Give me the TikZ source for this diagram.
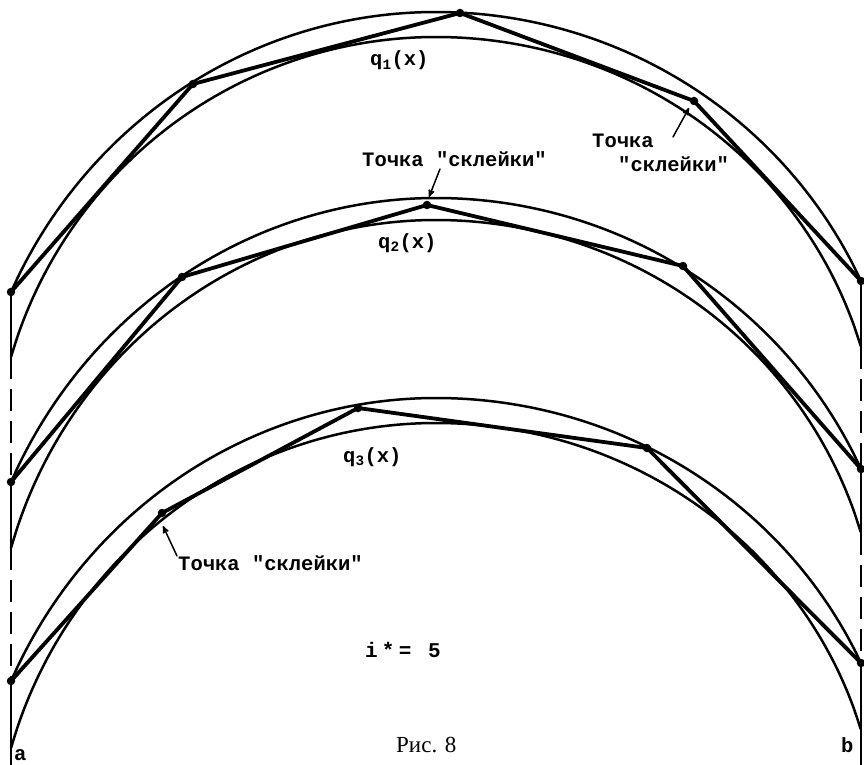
\documentclass[tikz,border=0pt]{standalone}
\usepackage{fontspec}
\newfontfamily\typfont{Liberation Mono}
\newfontfamily\capfont{Liberation Serif}
\usetikzlibrary{arrows}

% one band curve: top y, left end y, right end y, bend
\newcommand{\bow}[4]{%
  \draw[band] plot[domain=-1:1,samples=120,smooth]
    ({436+425*\x},{#1+ifthenelse(\x<0,#2-#1,#3-#1)*(1-sqrt(1-#4*#4*\x*\x))/(1-sqrt(1-#4*#4))});}

\begin{document}
\begin{tikzpicture}[x=1pt,y=-1pt,>=stealth',line cap=round]
  \tikzstyle{band}=[line width=2.5pt]
  \tikzstyle{spline}=[line width=3.8pt,line join=round]
  \tikzstyle{knot}=[circle,fill=black,inner sep=0pt,minimum size=8.5pt]
  \tikzstyle{lbl}=[font=\typfont\bfseries\fontsize{20.5}{24}\selectfont,inner sep=0pt,anchor=base west]
  \tikzstyle{side}=[line width=2.6pt]
  \tikzstyle{gap}=[line width=2.6pt,line cap=butt,dash pattern=on 22pt off 10pt]
  \tikzstyle{pointer}=[->,line width=1.5pt]

  \useasboundingbox (0,0) rectangle (864,765);

  % bands
  \bow{12}{292}{281}{0.91}
  \bow{37}{357}{347}{0.96}
  \bow{198}{482}{469}{0.91}
  \bow{220}{548}{533}{0.96}
  \bow{398}{681}{663}{0.91}
  \bow{423}{748}{730}{0.96}

  % knots
  \coordinate (k1a) at (11,292);  \coordinate (k1b) at (193,84);
  \coordinate (k1c) at (460,13);  \coordinate (k1d) at (694,101);
  \coordinate (k1e) at (861,281);
  \coordinate (k2a) at (11,482);  \coordinate (k2b) at (182,277);
  \coordinate (k2c) at (427,205); \coordinate (k2d) at (683,266);
  \coordinate (k2e) at (861,469);
  \coordinate (k3a) at (11,681);  \coordinate (k3b) at (162,513);
  \coordinate (k3c) at (358,408); \coordinate (k3d) at (647,448);
  \coordinate (k3e) at (861,663);

  % ends of the inner curves and of the interval
  \coordinate (e1L) at (11,357);  \coordinate (e1R) at (861,347);
  \coordinate (e2L) at (11,548);  \coordinate (e2R) at (861,533);
  \coordinate (e3L) at (11,748);  \coordinate (e3R) at (861,730);
  \coordinate (a0) at (11,765);   \coordinate (b0) at (861,765);

  \draw[spline] (k1a) -- (k1b) -- (k1c) -- (k1d) -- (k1e);
  \draw[spline] (k2a) -- (k2b) -- (k2c) -- (k2d) -- (k2e);
  \draw[spline] (k3a) -- (k3b) -- (k3c) -- (k3d) -- (k3e);

  \foreach \k in {k1a,k1b,k1c,k1d,k1e,k2a,k2b,k2c,k2d,k2e,k3a,k3b,k3c,k3d,k3e}
    \node[knot] at (\k) {};

  \path (k1a) edge[side] (e1L)  (e1L) edge[gap] (k2a)
        (k2a) edge[side] (e2L)  (e2L) edge[gap] (k3a)
        (k3a) edge[side] (a0)
        (k1e) edge[side] (e1R)  (e1R) edge[gap] (k2e)
        (k2e) edge[side] (e2R)  (e2R) edge[gap] (k3e)
        (k3e) edge[side] (b0);

  % labels
  \node[lbl] (q1) at (370,66)  {q\textsubscript{1}(x)};
  \node[lbl] (q2) at (378,248) {q\textsubscript{2}(x)};
  \node[lbl] (q3) at (343,462) {q\textsubscript{3}(x)};
  \node[lbl] (s2) at (362,166) {Точка "склейки"};
  \node[lbl] (s1a) at (592,147) {Точка};
  \node[lbl] (s1b) at (618,171) {"склейки"};
  \node[lbl] (s3) at (178,570) {Точка "склейки"};
  \node[lbl,font=\typfont\bfseries\fontsize{21}{24}\selectfont\addfontfeatures{LetterSpace=20}] (istar) at (365,657) {i*= 5};
  \node[lbl,font=\capfont\fontsize{23}{26}\selectfont] (fig) at (396,752) {Рис. 8};
  \node[lbl] (a) at (14,760) {a};
  \node[lbl] (b) at (841,752) {b};

  % pointers to the joints
  \coordinate (p1) at (673,137); \coordinate (t1) at (689,108);
  \coordinate (p2) at (440,169); \coordinate (t2) at (429,197);
  \coordinate (p3) at (177,556); \coordinate (t3) at (163,526);
  \path (p1) edge[pointer] (t1)
        (p2) edge[pointer] (t2)
        (p3) edge[pointer] (t3);
\end{tikzpicture}
\end{document}
